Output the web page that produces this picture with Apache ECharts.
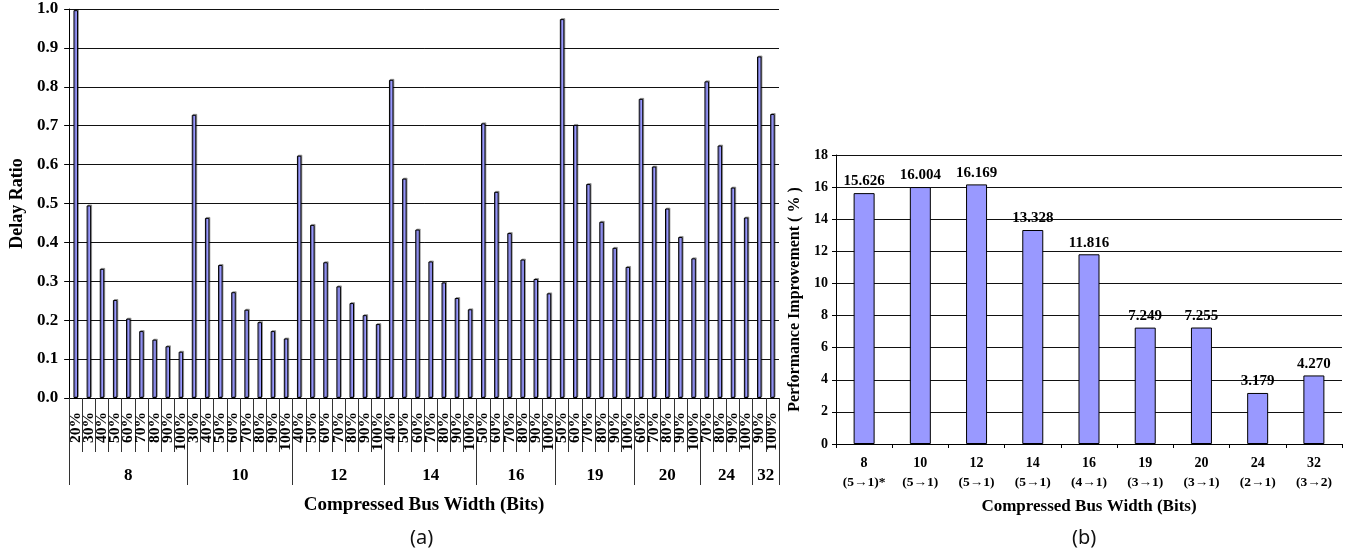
<!DOCTYPE html>
<html>
<head>
<meta charset="utf-8">
<script src="https://cdn.jsdelivr.net/npm/echarts@6/dist/echarts.min.js"></script>
<style>
html,body{margin:0;padding:0;background:#fff;}
#chart{width:1354px;height:554px;}
</style>
</head>
<body>
<div id="chart"></div>
<script>
// ---------- Data: panel (a) ----------
const groupNames = ['8', '10', '12', '14', '16', '19', '20', '24', '32'];
const groupSizes = [9, 8, 7, 7, 6, 6, 5, 4, 2];
const percentCats = [
  '20%','30%','40%','50%','60%','70%','80%','90%','100%',
  '30%','40%','50%','60%','70%','80%','90%','100%',
  '40%','50%','60%','70%','80%','90%','100%',
  '40%','50%','60%','70%','80%','90%','100%',
  '50%','60%','70%','80%','90%','100%',
  '50%','60%','70%','80%','90%','100%',
  '60%','70%','80%','90%','100%',
  '70%','80%','90%','100%',
  '90%','100%'
];
const delayRatio = [
  0.997, 0.495, 0.332, 0.252, 0.204, 0.172, 0.150, 0.133, 0.119,
  0.728, 0.463, 0.342, 0.272, 0.227, 0.195, 0.172, 0.153,
  0.623, 0.445, 0.349, 0.287, 0.244, 0.213, 0.190,
  0.818, 0.564, 0.433, 0.351, 0.297, 0.257, 0.228,
  0.706, 0.530, 0.424, 0.356, 0.306, 0.269,
  0.974, 0.702, 0.550, 0.453, 0.386, 0.337,
  0.769, 0.595, 0.487, 0.414, 0.359,
  0.814, 0.649, 0.541, 0.464,
  0.878, 0.730
];
const delayTicks = [0, 0.1, 0.2, 0.3, 0.4, 0.5, 0.6, 0.7, 0.8, 0.9, 1.0];

// ---------- Data: panel (b) ----------
const perfCats = ['8', '10', '12', '14', '16', '19', '20', '24', '32'];
const perfRatios = ['(5→1)*', '(5→1)', '(5→1)', '(5→1)', '(4→1)', '(3→1)', '(3→1)', '(2→1)', '(3→2)'];
const perfValues = [15.626, 16.004, 16.169, 13.328, 11.816, 7.249, 7.255, 3.179, 4.270];
const perfTicks = [0, 2, 4, 6, 8, 10, 12, 14, 16, 18];

// ---------- derived group boundaries / centers ----------
const groupBounds = [0];
groupSizes.forEach(s => groupBounds.push(groupBounds[groupBounds.length - 1] + s));
const groupCenters = groupSizes.map((s, i) => groupBounds[i] + s / 2);

const SERIF = '"Liberation Serif", "Times New Roman", serif';
const BLACK = '#000';

const chart = echarts.init(document.getElementById('chart'), null, {renderer: 'canvas'});

const option = {
  backgroundColor: '#fff',
  animation: false,
  grid: [
    {left: 67, top: 9, width: 712, height: 389, containLabel: false},
    {left: 836, top: 155, width: 506, height: 289, containLabel: false}
  ],
  xAxis: [
    {
      type: 'category', gridIndex: 0, data: percentCats, boundaryGap: true,
      axisLine: {show: true, lineStyle: {color: BLACK, width: 1}},
      axisTick: {show: true, interval: 0, length: 54, lineStyle: {color: '#333', width: 1}},
      axisLabel: {interval: 0, rotate: 90, margin: 14, color: BLACK,
        fontFamily: SERIF, fontWeight: 'bold', fontSize: 15.5},
      splitLine: {show: false}
    },
    {
      type: 'value', gridIndex: 0, min: 0, max: percentCats.length, position: 'bottom',
      axisLine: {show: false},
      axisTick: {show: true, customValues: groupBounds, length: 87, lineStyle: {color: '#333', width: 1}},
      axisLabel: {show: true, customValues: groupCenters, margin: 69, color: BLACK,
        fontFamily: SERIF, fontWeight: 'bold', fontSize: 17,
        formatter: v => {
          const i = groupCenters.findIndex(c => Math.abs(c - v) < 1e-6);
          return i >= 0 ? groupNames[i] : '';
        }},
      splitLine: {show: false},
      name: 'Compressed Bus Width (Bits)', nameLocation: 'middle', nameGap: 98,
      nameTextStyle: {color: BLACK, fontFamily: SERIF, fontWeight: 'bold', fontSize: 19}
    },
    {
      type: 'category', gridIndex: 1, data: perfCats, boundaryGap: true,
      axisLine: {show: true, lineStyle: {color: BLACK, width: 1}},
      axisTick: {show: true, interval: 0, length: 4, lineStyle: {color: BLACK}},
      axisLabel: {interval: 0, margin: 10, color: BLACK,
        formatter: (v, i) => '{a|' + v + '}\n{b|' + perfRatios[i] + '}',
        rich: {
          a: {fontFamily: SERIF, fontWeight: 'bold', fontSize: 14, lineHeight: 19, color: BLACK},
          b: {fontFamily: SERIF, fontWeight: 'bold', fontSize: 13.5, lineHeight: 19, color: BLACK}
        }},
      splitLine: {show: false},
      name: 'Compressed Bus Width (Bits)', nameLocation: 'middle', nameGap: 54,
      nameTextStyle: {color: BLACK, fontFamily: SERIF, fontWeight: 'bold', fontSize: 17}
    }
  ],
  yAxis: [
    {
      type: 'value', gridIndex: 0, min: delayTicks[0], max: delayTicks[delayTicks.length - 1], interval: 0.1,
      axisLine: {show: true, lineStyle: {color: BLACK}},
      axisTick: {show: true, length: 5, lineStyle: {color: BLACK}},
      axisLabel: {margin: 11, color: BLACK, fontFamily: SERIF, fontWeight: 'bold', fontSize: 17,
        formatter: v => v.toFixed(1)},
      splitLine: {show: true, lineStyle: {color: '#111', width: 1}},
      name: 'Delay Ratio', nameLocation: 'middle', nameGap: 41,
      nameTextStyle: {color: BLACK, fontFamily: SERIF, fontWeight: 'bold', fontSize: 18}
    },
    {
      type: 'value', gridIndex: 1, min: perfTicks[0], max: perfTicks[perfTicks.length - 1], interval: 2,
      axisLine: {show: true, lineStyle: {color: BLACK}},
      axisTick: {show: true, length: 4, lineStyle: {color: BLACK}},
      axisLabel: {margin: 8, color: BLACK, fontFamily: SERIF, fontWeight: 'bold', fontSize: 14},
      splitLine: {show: true, lineStyle: {color: '#111', width: 1}},
      name: 'Performance Improvement ( % )', nameLocation: 'middle', nameGap: 33,
      nameTextStyle: {color: BLACK, fontFamily: SERIF, fontWeight: 'bold', fontSize: 16}
    }
  ],
  series: [
    {
      type: 'bar', xAxisIndex: 0, yAxisIndex: 0, data: delayRatio, barWidth: 4.5,
      itemStyle: {color: '#9999ff', borderColor: '#000', borderWidth: 1,
        shadowColor: 'rgba(0,0,0,0.3)', shadowOffsetX: 1, shadowOffsetY: -1, shadowBlur: 0},
      silent: true
    },
    {
      type: 'bar', xAxisIndex: 2, yAxisIndex: 1, data: perfValues, barWidth: 21,
      itemStyle: {color: '#9999ff', borderColor: '#000', borderWidth: 1},
      label: {show: true, position: 'top', distance: 4, color: BLACK,
        fontFamily: SERIF, fontWeight: 'bold', fontSize: 15,
        formatter: p => p.value.toFixed(3)},
      silent: true
    }
  ],
  graphic: [
    {type: 'text', left: 410, top: 528,
      style: {text: '(a)', fill: '#111', font: '20px "Noto Sans", sans-serif'}},
    {type: 'text', left: 1072, top: 528,
      style: {text: '(b)', fill: '#111', font: '20px "Noto Sans", sans-serif'}}
  ]
};
chart.setOption(option);
</script>
</body>
</html>
